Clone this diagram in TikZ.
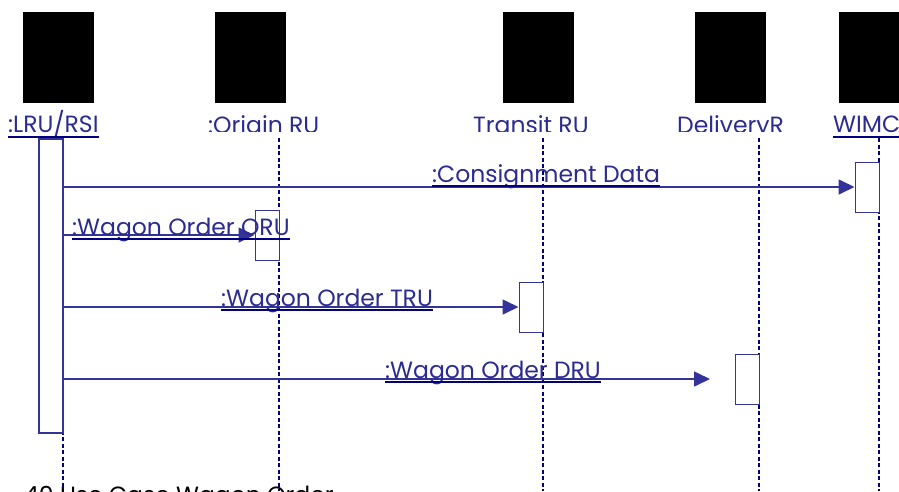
\documentclass[tikz,border=0pt]{standalone}
\usepackage{fontspec}
\setmainfont{Poppins}
\usetikzlibrary{arrows.meta}
\definecolor{msg}{RGB}{51,51,153}
\definecolor{navyline}{RGB}{0,0,128}
\definecolor{lbl}{RGB}{43,43,145}

\begin{document}
\begin{tikzpicture}[x=1pt,y=-1pt,
  actor/.style={fill=black, draw=none, inner sep=0pt, minimum width=71pt, minimum height=91pt},
  lifeline/.style={navyline, line width=1.6pt, dash pattern=on 4pt off 2.5pt},
  actbox/.style={draw=msg, fill=white, line width=1pt, inner sep=0pt, minimum width=24pt, minimum height=50pt},
  message/.style={msg, line width=1.6pt, -{Triangle[length=16pt,width=15pt]}},
  msglabel/.style={lbl, font=\fontsize{23.5}{23.5}\selectfont, inner sep=0pt, anchor=base west},
  headlabel/.style={lbl, font=\fontsize{23.5}{23.5}\selectfont, inner sep=0pt, anchor=base west},
  uline/.style={navyline, line width=2pt},
]
\useasboundingbox (0,0) rectangle (899,491);

% actor symbols
\node[actor] (lru)     at (58.5,57.5) {};
\node[actor] (origin)  at (250.5,57.5) {};
\node[actor] (transit) at (538.5,57.5) {};
\node[actor] (deliv)   at (730.5,57.5) {};
\node[actor, minimum width=80pt] (wimc) at (879,57.5) {};

% actor names
\node[headlabel] (lruName) at (8,132) {:LRU/RSI};
\draw[uline] ([yshift=-4.5pt]lruName.base west) -- ([yshift=-4.5pt]lruName.base east);
\begin{scope}
  \clip (0,0) rectangle (899,131.5);
  \node[headlabel] (originName)  at (208,133) {:Origin RU};
  \node[headlabel] (transitName) at (473,133) {Transit RU};
  \node[headlabel] (delivName)   at (677,133) {DeliveryR};
\end{scope}
\node[headlabel] (wimcName) at (833,132) {WIMC};
\draw[uline] ([yshift=-4.5pt]wimcName.base west) -- ([yshift=-4.5pt]wimcName.base east);

% lifelines
\coordinate (lruTop) at (63,138);     \coordinate (lruEnd) at (63,491);
\coordinate (originTop) at (279,138); \coordinate (originEnd) at (279,491);
\coordinate (transitTop) at (543,138);\coordinate (transitEnd) at (543,491);
\coordinate (delivTop) at (759,138);  \coordinate (delivEnd) at (759,491);
\coordinate (wimcTop) at (879,138);   \coordinate (wimcEnd) at (879,491);
\foreach \l in {lru,origin,transit,deliv,wimc}
  \draw[lifeline] (\l Top) -- (\l End);

% activation bars
\node[actbox, line width=1.6pt, minimum height=294pt] (lruAct) at (51,286) {};
\node[actbox] (wimcAct)    at (867,187) {};
\node[actbox] (originAct)  at (267,235) {};
\node[actbox] (transitAct) at (531,307) {};
\node[actbox] (delivAct)   at (747,379) {};
\coordinate (delivTip) at (710,379);

% messages
\draw[message] (lruAct.east |- wimcAct.west) -- (wimcAct.west);
\draw[message] (lruAct.east |- originAct.west) -- (originAct.west);
\draw[message] (lruAct.east |- transitAct.west) -- (transitAct.west);
\draw[message] (lruAct.east |- delivTip) -- (delivTip);

% message names
\node[msglabel] (m1) at (432,182.5) {:Consignment Data};
\node[msglabel] (m2) at (72,235) {:Wagon Order ORU};
\node[msglabel] (m3) at (221,306.5) {:Wagon Order TRU};
\node[msglabel] (m4) at (385,378.5) {:Wagon Order DRU};
\foreach \m in {m1,m2,m3,m4}
  \draw[uline] ([yshift=-3.8pt]\m.base west) -- ([yshift=-3.8pt]\m.base east);

% caption, running off the lower edge
\node[inner sep=0pt, anchor=base west, font=\fontsize{23.5}{23.5}\selectfont] (caption) at (24,503.5) {40 Use Case Wagon Order};
\end{tikzpicture}
\end{document}
